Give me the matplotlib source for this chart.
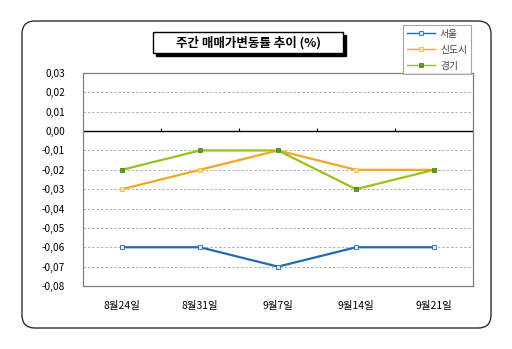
import matplotlib
matplotlib.use('Agg')
from matplotlib import pyplot as plt, patches as mpatches

plt.rcParams['font.family'] = ['Noto Sans CJK KR', 'DejaVu Sans']

# Dados ------------------------------------------------------------------------------------------------------------- #
datas = ['8월24일', '8월31일', '9월7일', '9월14일', '9월21일']
seoul = [-0.06, -0.06, -0.07, -0.06, -0.06]
sindosi = [-0.03, -0.02, -0.01, -0.02, -0.02]
gyeonggi = [-0.02, -0.01, -0.01, -0.03, -0.02]
yticks = [0.03, 0.02, 0.01, 0.00, -0.01, -0.02, -0.03, -0.04, -0.05, -0.06, -0.07, -0.08]

series = [('서울', seoul, '#1f6cb4', '#d8ecff', '#1f6cb4'),
          ('신도시', sindosi, '#f5a623', '#ffe27a', '#f5c040'),
          ('경기', gyeonggi, '#96c11f', '#5f9a1c', '#4e8a18')]

fig = plt.figure(figsize=(5.12, 3.49), dpi=100)
fig.patch.set_facecolor('white')

# moldura arredondada
moldura = mpatches.FancyBboxPatch((0.22, 0.21), 4.69, 3.07, boxstyle='round,pad=0,rounding_size=0.13',
                                  transform=fig.dpi_scale_trans, facecolor='none', edgecolor='#303030',
                                  lw=1.0, zorder=-1)
fig.patches.append(moldura)

ax = fig.add_axes([83 / 512, 1 - 286 / 349, 390 / 512, 213 / 349])
ax.set_facecolor('white')
x = range(len(datas))
for nome, vals, cor, mfc, mec in series:
    ax.plot(x, vals, color=cor, lw=1.6, marker='s', markersize=3, markerfacecolor=mfc,
            markeredgecolor=mec, markeredgewidth=0.6, label=nome, zorder=3)

ax.set_xlim(-0.5, len(datas) - 0.5)
ax.set_ylim(min(yticks), max(yticks))
ax.set_yticks(yticks)
ax.set_yticklabels([f'{v:.2f}'.replace('.', ',') for v in yticks])
ax.set_xticks(list(x))
ax.set_xticklabels(datas)
ax.tick_params(axis='y', length=0, pad=13, labelsize=7.3)
ax.tick_params(axis='x', length=0, pad=11, labelsize=7.5)
for y in yticks[1:-1]:
    if y != 0:
        ax.axhline(y, color='#b0b0b0', lw=0.7, ls=(0, (2.5, 2)), zorder=1)
ax.axhline(0, color='black', lw=1.0, zorder=2)
# marcas entre categorias no eixo zero
for b in range(1, len(datas)):
    ax.vlines(b - 0.5, 0, 0.0015, color='black', lw=0.8, zorder=2)
for s in ax.spines.values():
    s.set_color('#808080')
    s.set_linewidth(0.9)

# título com sombra
sombra = mpatches.Rectangle((1.56, 2.93), 1.90, 0.21, transform=fig.dpi_scale_trans,
                            facecolor='black', edgecolor='black', lw=1)
caixa = mpatches.Rectangle((1.53, 2.96), 1.90, 0.21, transform=fig.dpi_scale_trans,
                           facecolor='white', edgecolor='black', lw=1)
fig.patches.extend([sombra, caixa])
fig.text(2.48 / 5.12, 3.065 / 3.49, '주간 매매가변동률 추이 (%)', ha='center', va='center',
         fontsize=9, fontweight='bold')

leg = fig.legend(loc='upper left', bbox_to_anchor=(403 / 512, 1 - 25 / 349), fontsize=7,
                 frameon=True, fancybox=False, edgecolor='#909090', borderaxespad=0,
                 handlelength=2.9, handletextpad=0.5, labelspacing=0.6, borderpad=0.4)
leg.get_frame().set_linewidth(0.8)
for t in leg.get_texts():
    t.set_color('#404040')
for h in leg.get_lines():
    h.set_linewidth(1.0)

plt.savefig('out.png', dpi=100)
